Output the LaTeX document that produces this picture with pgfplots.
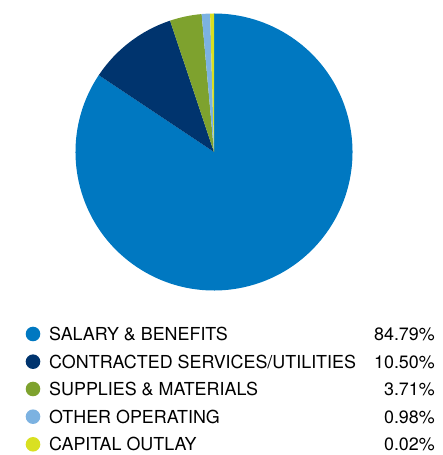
\documentclass[border=0pt]{standalone}
\usepackage{pgfplots}
\usepackage{pgfplotstable}
\pgfplotsset{compat=1.18}
\usepackage{fontspec}
\setmainfont{TeX Gyre Heros}

\definecolor{cSal}{HTML}{0078C1}
\definecolor{cCon}{HTML}{00346E}
\definecolor{cSup}{HTML}{7EA22E}
\definecolor{cOth}{HTML}{7CB2E1}
\definecolor{cCap}{HTML}{D9E021}

% budget shares in percent
\pgfplotstableread{
share
84.79
10.50
3.71
0.98
0.02
}\budget

\begin{document}
\begin{tikzpicture}
\pgfplotstablegetelem{0}{share}\of\budget \let\vSal\pgfplotsretval
\pgfplotstablegetelem{1}{share}\of\budget \let\vCon\pgfplotsretval
\pgfplotstablegetelem{2}{share}\of\budget \let\vSup\pgfplotsretval
\pgfplotstablegetelem{3}{share}\of\budget \let\vOth\pgfplotsretval
\pgfplotstablegetelem{4}{share}\of\budget \let\vCap\pgfplotsretval
% slices run clockwise from 12 o'clock; tiny slice gets a minimum sweep
\pgfmathsetmacro\aA{90}
\pgfmathsetmacro\aB{\aA+max(3.6*\vCap,1.6)}
\pgfmathsetmacro\aC{\aB+3.6*\vOth}
\pgfmathsetmacro\aD{\aC+3.6*\vSup}
\pgfmathsetmacro\aE{\aD+3.6*\vCon}
\def\R{138.5pt}
\begin{axis}[
    x=1pt, y=1pt,
    xmin=0, xmax=443, ymin=0, ymax=455,
    scale only axis,
    at={(0,0)}, anchor=south west,
    hide axis,
    clip=false,
]
\fill[cSal] (axis cs:214,303) -- ++(\aE:\R) arc[start angle=\aE, end angle=450, radius=\R] -- cycle;
\fill[cCon] (axis cs:214,303) -- ++(\aD:\R) arc[start angle=\aD, end angle=\aE, radius=\R] -- cycle;
\fill[cSup] (axis cs:214,303) -- ++(\aC:\R) arc[start angle=\aC, end angle=\aD, radius=\R] -- cycle;
\fill[cOth] (axis cs:214,303) -- ++(\aB:\R) arc[start angle=\aB, end angle=\aC, radius=\R] -- cycle;
\fill[cCap] (axis cs:214,303) -- ++(\aA:\R) arc[start angle=\aA, end angle=\aB, radius=\R] -- cycle;

% legend
\fill[cSal] (axis cs:33,121) circle[radius=7.3pt];
\fill[cCon] (axis cs:33,93.3) circle[radius=7.3pt];
\fill[cSup] (axis cs:33,66) circle[radius=7.3pt];
\fill[cOth] (axis cs:33,38.3) circle[radius=7.3pt];
\fill[cCap] (axis cs:33,10.7) circle[radius=7.3pt];
\begin{scope}[every node/.style={inner sep=0pt, font=\fontsize{17.9}{20}\selectfont}]
\node[anchor=base west] at (axis cs:49,114.6) {SALARY \& BENEFITS};
\node[anchor=base west] at (axis cs:49,86.9) {CONTRACTED SERVICES/UTILITIES};
\node[anchor=base west] at (axis cs:49,59.6) {SUPPLIES \& MATERIALS};
\node[anchor=base west] at (axis cs:49,31.9) {OTHER OPERATING};
\node[anchor=base west] at (axis cs:49,4.3) {CAPITAL OUTLAY};
\node[anchor=base east] at (axis cs:435,114.6) {84.79\%};
\node[anchor=base east] at (axis cs:435,86.9) {10.50\%};
\node[anchor=base east] at (axis cs:435,59.6) {3.71\%};
\node[anchor=base east] at (axis cs:435,31.9) {0.98\%};
\node[anchor=base east] at (axis cs:435,4.3) {0.02\%};
\end{scope}
\end{axis}
\pgfresetboundingbox
\path (0,0) rectangle (443pt,455pt);
\end{tikzpicture}
\end{document}
